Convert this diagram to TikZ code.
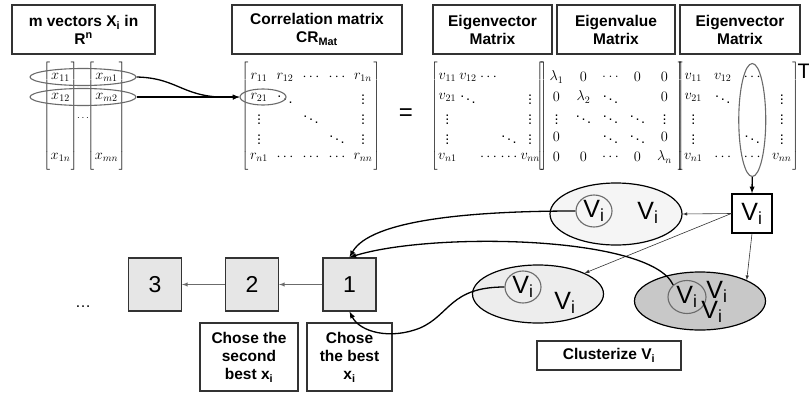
\documentclass[tikz,border=0pt]{standalone}
\usepackage[no-math]{fontspec}
\setmainfont{Liberation Sans}
\usetikzlibrary{matrix,shapes.geometric}

\definecolor{lightfill}{HTML}{F5F5F5}
\definecolor{midfill}{HTML}{EDEDED}
\definecolor{darkfill}{HTML}{C8C8C8}
\definecolor{boxfill}{HTML}{E6E6E6}
\definecolor{edge}{HTML}{333333}
\definecolor{ringgray}{HTML}{6B6B6B}

\begin{document}
\begin{tikzpicture}[x=1pt, y=-1pt,
  title/.style={rectangle, draw=edge, line width=1.3pt, minimum height=49pt, align=center, inner sep=1pt, font=\fontsize{15.5}{18}\selectfont\bfseries},
  every delimiter/.style={inner sep=0pt},
  every left delimiter/.style={xshift=4pt},
  every right delimiter/.style={xshift=-4pt},
  mat/.style={matrix of math nodes, nodes={inner sep=0pt, anchor=center, minimum height=20pt, font=\fontsize{14.4}{16}\selectfont}, left delimiter={[}, right delimiter={]}},
  ring/.style={ellipse, draw=ringgray, line width=1.1pt, inner sep=0pt},
  cluster/.style={ellipse, draw=black, line width=1.2pt, minimum width=131pt, minimum height=58pt},
  sq/.style={rectangle, draw=edge, line width=1.2pt, fill=boxfill, minimum size=53pt, font=\fontsize{23}{23}\selectfont},
  vtext/.style={font=\fontsize{25}{25}\selectfont, inner sep=0pt},
  arrow/.style={-latex, line width=1.3pt},
  thinarrow/.style={-latex, line width=0.6pt, edge},
  chain/.style={-latex, line width=0.9pt, ringgray}
]
\useasboundingbox (0,0) rectangle (809,394);

% headings
\node[title, minimum width=143pt] (vecs) at (83.5,29.5) {m vectors X\textsubscript{i} in\\R\textsuperscript{n}};
\node[title, minimum width=170pt] (corr) at (317,29.5) {Correlation matrix\\CR\textsubscript{Mat}};
\node[title, minimum width=119pt] (evec) at (492.5,29.5) {Eigenvector\\Matrix};
\node[title, minimum width=118pt] (eval) at (616,29.5) {Eigenvalue\\Matrix};
\node[title, minimum width=120pt] (evect) at (740,29.5) {Eigenvector\\Matrix};

% the m vectors
\matrix (xa) at (60.5,117) [mat, nodes={minimum width=18pt}] {
  x_{11}\\ x_{12}\\ {}\\ {}\\ x_{1n}\\
};
\matrix (xb) at (106.5,117) [mat, nodes={minimum width=22pt}] {
  x_{m1}\\ x_{m2}\\ {}\\ {}\\ x_{mn}\\
};
\node (xdots) at (83,118) {$\cdots$};
\node[ring, minimum width=106pt, minimum height=17pt] (row1) at (xdots |- xa-1-1) {};
\node[ring, minimum width=106pt, minimum height=17pt] (row2) at (xdots |- xa-2-1) {};

% correlation matrix
\matrix (R) at (311,117) [mat, nodes={minimum width=20pt}, column sep=6pt] {
  r_{11} & r_{12} & \cdots & \cdots & r_{1n}\\
  r_{21} & \ddots &        &        & \vdots\\
  \vdots &        & \ddots &        & \vdots\\
  \vdots &        &        & \ddots & \vdots\\
  r_{n1} & \cdots & \cdots & \cdots & r_{nn}\\
};
\node[ring, minimum width=46pt, minimum height=16pt] (r21ring) at ([xshift=4pt]R-2-1) {};
\node[font=\fontsize{24}{24}\selectfont] (eq) at (406,115) {=};

% eigen decomposition
\matrix (V) at (489,117) [mat, nodes={minimum width=18pt}, column sep=2.5pt] {
  v_{11} & v_{12} & \cdots & {}     & {}\\
  v_{21} & \ddots &        &        & \vdots\\
  \vdots &        &        &        & \vdots\\
  \vdots &        &        & \ddots & \vdots\\
  v_{n1} &        & \cdots & \cdots & v_{nn}\\
};
\matrix (L) at (610.5,117) [mat, nodes={minimum width=25.5pt}, column sep=1.5pt] {
  \lambda_1 & 0         & \ldots & 0      & 0\\
  0         & \lambda_2 & \ddots &        & 0\\
  \vdots    & \ddots    & \ddots & \ddots & \vdots\\
  0         &           & \ddots & \ddots & 0\\
  0         & 0         & \cdots & 0      & \lambda_n\\
};
\matrix (VT) at (737.5,117) [mat, nodes={minimum width=20pt}, column sep=9.5pt] {
  v_{11} & v_{12} & \cdots & {}\\
  v_{21} & \ddots &        & \vdots\\
  \vdots &        &        & \vdots\\
  \vdots &        & \ddots & \vdots\\
  v_{n1} & \cdots & \cdots & v_{nn}\\
};
\node[font=\fontsize{21}{21}\selectfont, inner sep=0pt] (tr) at (804,71) {T};
\node[ring, minimum width=27pt, minimum height=113pt] (vcol) at ([yshift=-3pt]VT-1-3 |- VT-3-1) {};

\draw[arrow] (row1.east) .. controls (180,78) and (182,99) .. (r21ring.west);
\draw[arrow] (row2.east) -- (r21ring.west);

% clustering
\node[draw=black, line width=1.3pt, minimum width=40pt, minimum height=39pt, vtext] (vbox) at (752,213.5) {V\textsubscript{i}};
\draw[arrow] (vcol.south) -- (vbox.north);

\node[cluster, fill=lightfill, minimum width=132pt, minimum height=62pt] (clA) at (616,214) {};
\node[ring, minimum width=36pt, minimum height=32pt, vtext] (ringA) at (594,211) {V\textsubscript{i}};
\node[vtext] (tA) at (648,213) {V\textsubscript{i}};

\node[cluster, fill=midfill] (clB) at (538,294) {};
\node[ring, minimum width=36pt, minimum height=32pt, vtext] (ringB) at (523,287) {V\textsubscript{i}};
\node[vtext] (tB) at (565,303) {V\textsubscript{i}};

\node[cluster, fill=darkfill] (clC) at (700,301) {};
\node[ring, minimum width=38pt, minimum height=33pt, vtext] (ringC) at (687,297) {V\textsubscript{i}};
\node[vtext] (tC1) at (717,292) {V\textsubscript{i}};
\node[vtext] (tC2) at (712,312) {V\textsubscript{i}};

\draw[thinarrow] (vbox.west) -- (clA.east);
\draw[thinarrow] (vbox.west) -- (clB.north east);
\draw[thinarrow] (vbox.south) -- (clC.north east);

\node[title, minimum width=144pt, minimum height=29pt] (clus) at (609,355.5) {Clusterize V\textsubscript{i}};

% ranking
\node[sq] (s1) at (349.5,284.5) {1};
\node[sq] (s2) at (252,284.5) {2};
\node[sq] (s3) at (155,284.5) {3};
\node[font=\fontsize{16}{16}\selectfont] (more) at (83,307) {\dots};
\draw[chain] (s1) -- (s2);
\draw[chain] (s2) -- (s3);

\node[title, minimum width=85pt, minimum height=68pt] (best) at (349.5,357) {Chose\\the best\\x\textsubscript{i}};
\node[title, minimum width=98pt, minimum height=68pt] (second) at (249,357) {Chose the\\second\\best x\textsubscript{i}};

\draw[arrow] (ringA.west) .. controls (470,211) and (370,220) .. (s1.north);
\draw[arrow] (ringC.north west) .. controls (650,235) and (430,232) .. (s1.north);
\draw[arrow] (ringB.west) .. controls (450,287) and (450,315) .. (420,328)
  .. controls (390,340) and (360,332) .. (s1.south);

\end{tikzpicture}
\end{document}
